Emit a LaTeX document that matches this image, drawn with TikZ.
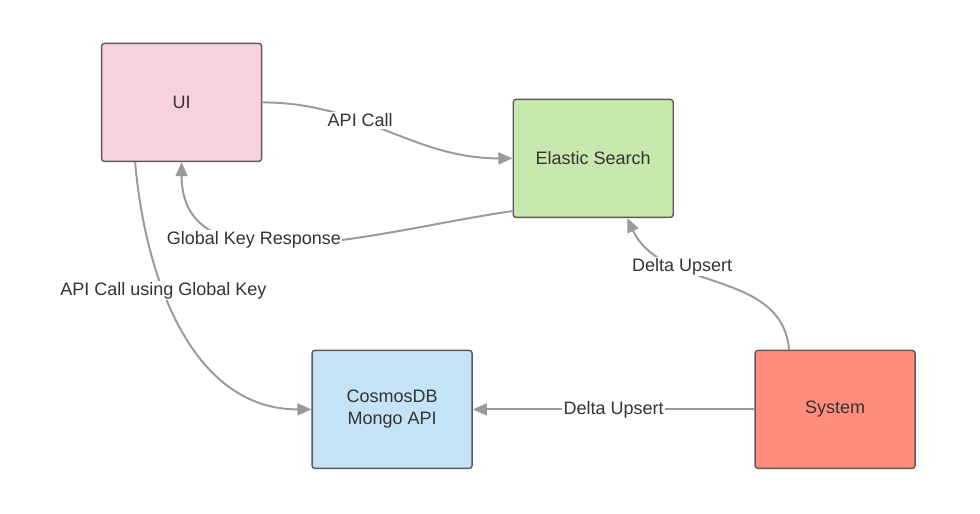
\documentclass[tikz,border=0pt]{standalone}
\usepackage{fontspec}
\setmainfont{Liberation Sans}
\usetikzlibrary{arrows.meta}
\usetikzlibrary{calc,positioning}
\definecolor{uipink}{HTML}{F7D1DF}
\definecolor{esgreen}{HTML}{C7E8AC}
\definecolor{cdbblue}{HTML}{C4E3F6}
\definecolor{syssalmon}{HTML}{FF8C7C}
\definecolor{boxline}{HTML}{5A5A5A}
\definecolor{arrgray}{HTML}{9A9A9A}
\definecolor{txtgray}{HTML}{333333}
\tikzstyle{block} = [rectangle,rounded corners=2pt,minimum width=4cm,minimum height=2.95cm,align=center,draw=boxline,line width=1pt,text=txtgray,font=\fontsize{12.8}{15.5}\selectfont]
\tikzstyle{flow} = [draw=arrgray,line width=1.4pt,-{Triangle[length=10pt,width=8.5pt]}]
\tikzstyle{lbl} = [fill=white,text=txtgray,inner sep=1pt,font=\fontsize{12.8}{15}\selectfont]

\begin{document}
\begin{tikzpicture}[node distance=1cm,on grid]

\useasboundingbox (0,0) rectangle (24.5,-12.85);

\node (ui) [block,fill=uipink] at (4.54,-2.56) {UI};
\node (es) [block,fill=esgreen,below right=1.4cm and 10.29cm of ui] {Elastic Search};
\node (cdb) [block,fill=cdbblue,below right=7.675cm and 5.2625cm of ui] {CosmosDB\\Mongo API};
\node (sys) [block,fill=syssalmon,right=11.075cm of cdb] {System};

\draw[flow] (ui.east) to[out=0,in=180] node[lbl,pos=0.38]{API Call} (es.west);
\draw[flow] ($(es.south west)+(0,0.175)$) to[out=188,in=-90] node[lbl,pos=0.62]{Global Key Response} (ui.south);
\draw[flow] ($(ui.south)+(-1.1625,0)$) to[out=-85,in=180] node[lbl,pos=0.37]{API Call using Global Key} (cdb.west);
\draw[flow] ($(sys.north)+(-1.15,0)$) to[out=95,in=-65] node[lbl,pos=0.67]{Delta Upsert} ($(es.south)+(0.85,0)$);
\draw[flow] (sys.west) -- node[lbl,pos=0.5]{Delta Upsert} (cdb.east);

\end{tikzpicture}
\end{document}
